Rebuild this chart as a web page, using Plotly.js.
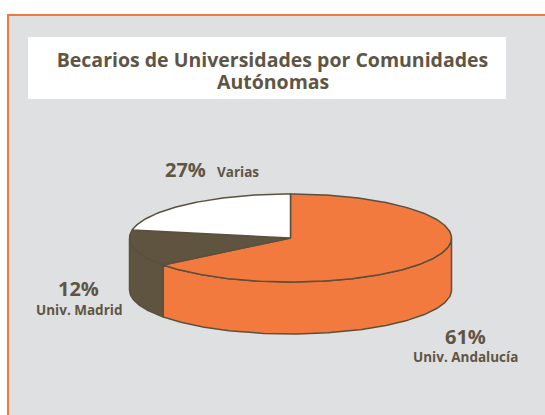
<!DOCTYPE html>
<html>
<head>
<meta charset="utf-8">
<script src="https://cdn.plot.ly/plotly-3.0.1.min.js"></script>
<style>html,body{margin:0;padding:0;background:#fff;}#chart{width:545px;height:415px;}</style>
</head>
<body>
<div id="chart"></div>
<script>
// ---- data ----
const categories = ['Univ. Andalucía', 'Univ. Madrid', 'Varias'];
const values = [61, 12, 27];
const titleLines = ['Becarios de Universidades por Comunidades', 'Autónomas'];

// ---- style ----
const sliceColors = ['#F37A3F', '#5E5440', '#FFFFFF'];
const edgeColor = '#5B503D';
const textColor = '#5E5545';
const bgGray = '#DFE0E2';
const borderOrange = '#F07A3E';
const FONT = 'Open Sans, Noto Sans, sans-serif';

// pie geometry (pixel units of the axes)
const cx = 290.5, cy = 238, rx = 161, ry = 44, depth = 52, persp = 0.3;

// perspective-like warp of an angle (clockwise from top) onto the drawn ellipse
function xHalfExtent() {
  let m = 0;
  for (let i = 0; i <= 3600; i++) {
    const t = i / 3600 * 2 * Math.PI;
    m = Math.max(m, Math.abs(Math.sin(t) / (1 + persp * Math.cos(t))));
  }
  return m;
}
const XH = xHalfExtent();
function warp(t) {
  if (t <= 1e-9) return 0;
  if (t >= 2 * Math.PI - 1e-9) return 2 * Math.PI;
  const X = Math.sin(t), Z = -Math.cos(t);
  const s = 1 / (1 - persp * Z);
  const zMin = -1 / (1 + persp), zMax = 1 / (1 - persp);
  const mid = (zMin + zMax) / 2, half = (zMax - zMin) / 2;
  const xc = X * s / XH, zc = (Z * s - mid) / half;
  let a = Math.atan2(xc, -zc);
  if (a < 0) a += 2 * Math.PI;
  return a;
}
function pt(phi, dy) {
  return [cx + rx * Math.sin(phi), cy - ry * Math.cos(phi) + (dy || 0)];
}
function arc(a, b, dy) {
  const n = Math.max(2, Math.ceil((b - a) / (Math.PI / 180)));
  const out = [];
  for (let i = 0; i <= n; i++) out.push(pt(a + (b - a) * i / n, dy));
  return out;
}

const total = values.reduce((s, v) => s + v, 0);
let acc = 0;
const slices = values.map((v, i) => {
  const a = warp(acc / total * 2 * Math.PI);
  acc += v;
  const b = warp(acc / total * 2 * Math.PI);
  return {a, b, color: sliceColors[i], name: categories[i]};
});

const walls = [], tops = [];
slices.forEach(sl => {
  const a = Math.max(sl.a, Math.PI / 2), b = Math.min(sl.b, 3 * Math.PI / 2);
  if (b > a) {
    const top = arc(a, b, 0), bot = arc(a, b, depth).reverse();
    const poly = top.concat(bot);
    poly.push(top[0]);
    walls.push({
      type: 'scatter', mode: 'lines', fill: 'toself',
      x: poly.map(p => p[0]), y: poly.map(p => p[1]),
      fillcolor: sl.color, line: {color: edgeColor, width: 1.5},
      hoverinfo: 'skip', showlegend: false
    });
  }
  const poly = [[cx, cy]].concat(arc(sl.a, sl.b, 0));
  poly.push([cx, cy]);
  tops.push({
    type: 'scatter', mode: 'lines', fill: 'toself', name: sl.name,
    x: poly.map(p => p[0]), y: poly.map(p => p[1]),
    fillcolor: sl.color, line: {color: edgeColor, width: 1.5},
    hoverinfo: 'skip', showlegend: false
  });
});

// labels: [percent position, name position]
const pctPos = [[465, 336], [78.5, 288], [185.5, 169.5]];
const namePos = [[465.5, 356.5], [78.5, 310], [237.5, 171.5]];
const annotations = [];
values.forEach((v, i) => {
  annotations.push({
    x: pctPos[i][0], y: pctPos[i][1], xref: 'x', yref: 'y', showarrow: false,
    text: '<b>' + v + '%</b>', font: {family: FONT, size: 20, color: textColor},
    xanchor: 'center', yanchor: 'middle'
  });
  annotations.push({
    x: namePos[i][0], y: namePos[i][1], xref: 'x', yref: 'y', showarrow: false,
    text: '<b>' + categories[i] + '</b>', font: {family: FONT, size: 13.5, color: textColor},
    xanchor: 'center', yanchor: 'middle'
  });
});
// second title line (tighter line spacing than Plotly's default)
annotations.push({
  x: 272.5, y: 81.5, xref: 'x', yref: 'y', showarrow: false,
  text: '<b>' + titleLines[1] + '</b>', font: {family: FONT, size: 19.5, color: textColor},
  xanchor: 'center', yanchor: 'middle'
});

const layout = {
  width: 545, height: 415,
  margin: {l: 0, r: 0, t: 0, b: 0},
  paper_bgcolor: '#FFFFFF', plot_bgcolor: '#FFFFFF',
  title: {
    text: '<b>' + titleLines[0] + '</b>',
    font: {family: FONT, size: 19.5, color: textColor},
    x: 272.5 / 545, xanchor: 'center', xref: 'paper',
    y: 1 - 60.5 / 415, yanchor: 'middle', yref: 'container'
  },
  xaxis: {range: [0, 545], visible: false, fixedrange: true},
  yaxis: {range: [415, 0], visible: false, fixedrange: true},
  shapes: [
    {type: 'rect', xref: 'x', yref: 'y', x0: 8, y0: 15, x1: 560, y1: 430,
     fillcolor: bgGray, line: {color: borderOrange, width: 2}, layer: 'below'},
    {type: 'rect', xref: 'x', yref: 'y', x0: 28, y0: 37, x1: 506, y1: 99,
     fillcolor: '#FFFFFF', line: {width: 0}, layer: 'below'}
  ],
  annotations: annotations
};

Plotly.newPlot('chart', walls.concat(tops), layout, {staticPlot: true, displayModeBar: false});
</script>
</body>
</html>
